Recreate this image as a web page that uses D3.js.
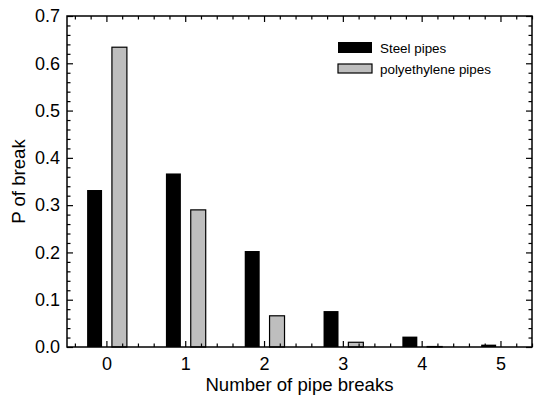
<!DOCTYPE html>
<html>
<head>
<meta charset="utf-8">
<script src="https://cdn.jsdelivr.net/npm/d3@7"></script>
<style>
  body { margin: 0; background: #fff; }
  svg { display: block; font-family: 'Liberation Sans', Arial, sans-serif; }
  .tick text { font-size: 18px; fill: #000; }
  .tick line { stroke: #000; stroke-width: 1.2; }
  .axis-label { font-size: 18.6px; fill: #000; }
  .legend text { font-size: 13.4px; fill: #000; }
</style>
</head>
<body>
<div id="chart"></div>
<script>
// values
const breaks = [0, 1, 2, 3, 4, 5];
const steelPipes = [0.332, 0.367, 0.203, 0.076, 0.022, 0.005];
const pePipes = [0.634, 0.290, 0.066, 0.010, 0.001, 0];
const seriesNames = ['Steel pipes', 'polyethylene pipes'];
const yTicks = [0, 0.1, 0.2, 0.3, 0.4, 0.5, 0.6, 0.7];

const W = 539, H = 400;
const margin = { top: 16, right: 7, bottom: 53, left: 67 };
const width = W - margin.left - margin.right;
const height = H - margin.top - margin.bottom;

const svg = d3.select('#chart')
  .append('svg')
  .attr('width', W)
  .attr('height', H)
  .append('g')
  .attr('transform', 'translate(' + margin.left + ',' + margin.top + ')');

const x = d3.scaleLinear().domain([-0.5, 5.4]).range([0, width]);
const y = d3.scaleLinear().domain([0, 0.7]).range([height, 0]);

const minorX = d3.range(-0.4, 5.41, 0.2).map(d => +d.toFixed(1)).filter(d => Math.abs(d - Math.round(d)) > 1e-6);
const minorY = d3.range(0, 0.701, 0.02).map(d => +d.toFixed(2)).filter(d => Math.abs(d * 10 - Math.round(d * 10)) > 1e-6);

const barW = x(0.19) - x(0);
const colors = ['#000', '#bebebe'];
const offsets = [-0.15, 0.165];

// bars
[steelPipes, pePipes].forEach((vals, i) => {
  svg.selectAll('.bar-' + i)
    .data(vals.map((v, j) => ({ k: breaks[j], v })))
    .enter()
    .append('rect')
    .attr('class', 'bar-' + i)
    .attr('x', d => x(d.k + offsets[i]) - barW / 2)
    .attr('width', barW)
    .attr('y', d => y(d.v))
    .attr('height', d => height - y(d.v))
    .attr('fill', colors[i])
    .attr('stroke', '#000')
    .attr('stroke-width', i === 0 ? 0 : 1.2);
});

// axes, ticks pointing inward
function ax (g, axis) {
  g.call(axis);
  g.select('.domain').remove();
}
svg.append('g').attr('transform', 'translate(0,' + height + ')')
  .call(ax, d3.axisBottom(x).tickValues(breaks).tickSize(-6).tickPadding(10).tickFormat(d3.format('d')));
svg.append('g').attr('transform', 'translate(0,' + height + ')')
  .call(ax, d3.axisBottom(x).tickValues(minorX).tickSize(-3.5).tickFormat(''));
svg.append('g')
  .call(ax, d3.axisTop(x).tickValues(breaks).tickSize(-6).tickFormat(''));
svg.append('g')
  .call(ax, d3.axisTop(x).tickValues(minorX).tickSize(-3.5).tickFormat(''));

svg.append('g')
  .call(ax, d3.axisLeft(y).tickValues(yTicks).tickSize(-6).tickPadding(7).tickFormat(d3.format('.1f')));
svg.append('g')
  .call(ax, d3.axisLeft(y).tickValues(minorY).tickSize(-3.5).tickFormat(''));
svg.append('g').attr('transform', 'translate(' + width + ',0)')
  .call(ax, d3.axisRight(y).tickValues(yTicks).tickSize(-6).tickFormat(''));
svg.append('g').attr('transform', 'translate(' + width + ',0)')
  .call(ax, d3.axisRight(y).tickValues(minorY).tickSize(-3.5).tickFormat(''));

// frame
svg.append('rect')
  .attr('width', width)
  .attr('height', height)
  .attr('fill', 'none')
  .attr('stroke', '#000')
  .attr('stroke-width', 1.5);

// axis labels
svg.append('text')
  .attr('class', 'axis-label')
  .attr('x', width / 2)
  .attr('y', height + 44)
  .attr('text-anchor', 'middle')
  .text('Number of pipe breaks');

svg.append('text')
  .attr('class', 'axis-label')
  .attr('transform', 'rotate(-90)')
  .attr('x', -height / 2)
  .attr('y', -42)
  .attr('text-anchor', 'middle')
  .text('P of break');

// legend
const legend = svg.append('g')
  .attr('class', 'legend')
  .attr('transform', 'translate(271,26)');
seriesNames.forEach((name, i) => {
  const g = legend.append('g').attr('transform', 'translate(0,' + i * 21 + ')');
  g.append('rect')
    .attr('width', 34)
    .attr('height', i === 0 ? 11 : 9)
    .attr('y', i === 0 ? 0 : 1)
    .attr('fill', colors[i])
    .attr('stroke', '#000')
    .attr('stroke-width', i === 0 ? 0 : 1.2);
  g.append('text')
    .attr('x', 42)
    .attr('y', 11)
    .text(name);
});
</script>
</body>
</html>
